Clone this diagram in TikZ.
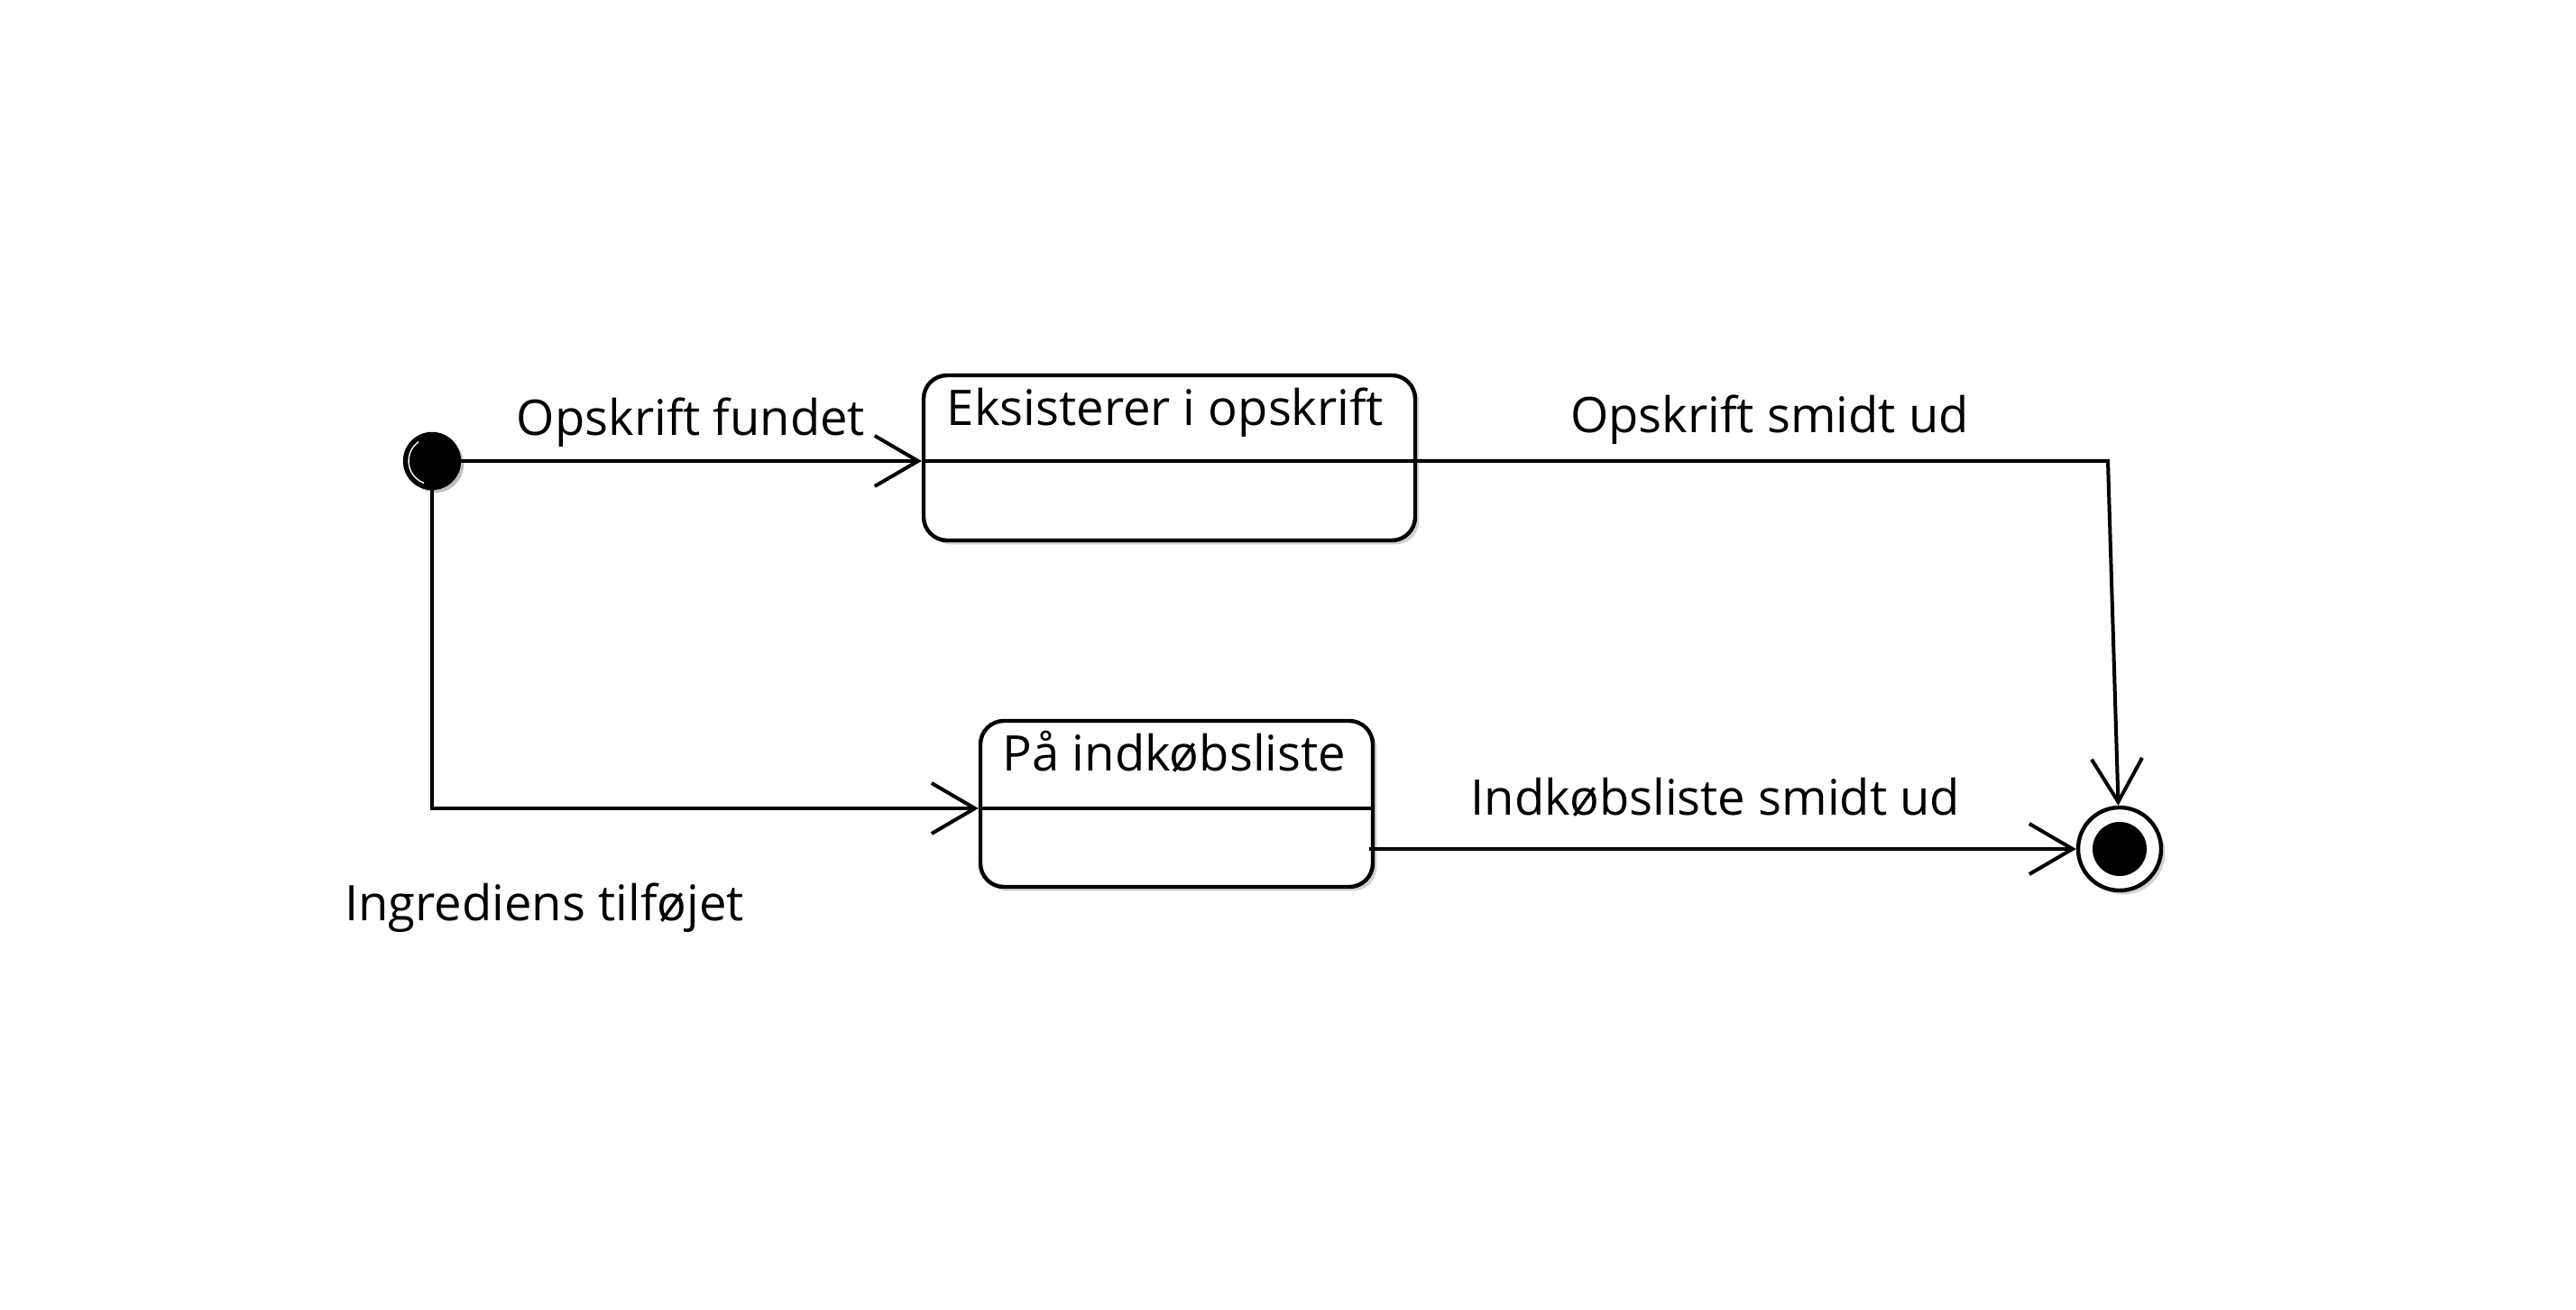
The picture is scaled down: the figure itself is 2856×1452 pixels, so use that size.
\documentclass[tikz,border=0pt]{standalone}
\usepackage{fontspec}
\setmainfont{Open Sans}
\usetikzlibrary{arrows.meta,shadows,calc}
\begin{document}
\begin{tikzpicture}[x=0.25pt,y=-0.25pt,
  lbl/.style={font=\fontsize{13.6pt}{15pt}\selectfont, inner sep=0pt, anchor=base},
  statebox/.style={draw, line width=1.1pt, rounded corners=6.5pt, fill=white, inner sep=0pt,
    drop shadow={shadow xshift=1.1pt, shadow yshift=-1.1pt, fill=black!18, opacity=1}},
  conn/.style={line width=1pt},
  arr/.style={conn, -{Straight Barb[length=12pt,width=14pt,line width=1pt]}},
  initstate/.style={circle, fill=black, draw=black, line width=0.6pt, inner sep=0pt, minimum size=15.5pt,
    drop shadow={shadow xshift=1pt, shadow yshift=-1pt, fill=black!25, opacity=1}},
  finalstate/.style={circle, fill=white, draw=black, line width=1.1pt, inner sep=0pt, minimum size=23pt,
    drop shadow={shadow xshift=1.1pt, shadow yshift=-1.1pt, fill=black!18, opacity=1}},
]
\useasboundingbox[fill=white] (0,0) rectangle (2856,1452);

% states
\node[initstate] (init) at (479,511) {};
\draw[white, line width=0.35pt] (init.center) ++(110:26) arc[start angle=110, end angle=235, radius=26];

\node[statebox, minimum width=136.25pt, minimum height=45.75pt] (box1) at (1296.5,507.5) {};
\node[lbl] (t1) at (1292,472) {Eksisterer i opskrift};

\node[statebox, minimum width=108.75pt, minimum height=46pt] (box2) at (1304.5,891) {};
\node[lbl] (t2) at (1302,855) {På indkøbsliste};

\node[finalstate] (final) at (2350,941) {};
\fill[black] (final.center) circle[radius=30];

% compartments
\coordinate (c1) at (box1.west |- init);
\coordinate (c2) at ($(box2.west)+(0,5)$);
\draw[conn] (c1) -- (box1.east |- init);
\draw[conn] (c2) -- (box2.east |- c2);

% corners
\coordinate (k1) at (2337,511);
\coordinate (k2) at (init |- c2);

% transitions
\draw[arr] (init) -- (c1);
\draw[arr] (box1.east |- init) -- (k1) -- (final);
\draw[arr] (init) -- (k2) -- (c2);
\draw[arr] ($(box2.east |- final.west)+(-6,0)$) -- (final.west);

% labels
\node[lbl] (l1) at (766,483) {Opskrift fundet};
\node[lbl] (l2) at (1962,480) {Opskrift smidt ud};
\node[lbl] (l3) at (1902,903) {Indkøbsliste smidt ud};
\node[lbl] (l4) at (603.5,1020) {Ingrediens tilføjet};
\end{tikzpicture}
\end{document}
